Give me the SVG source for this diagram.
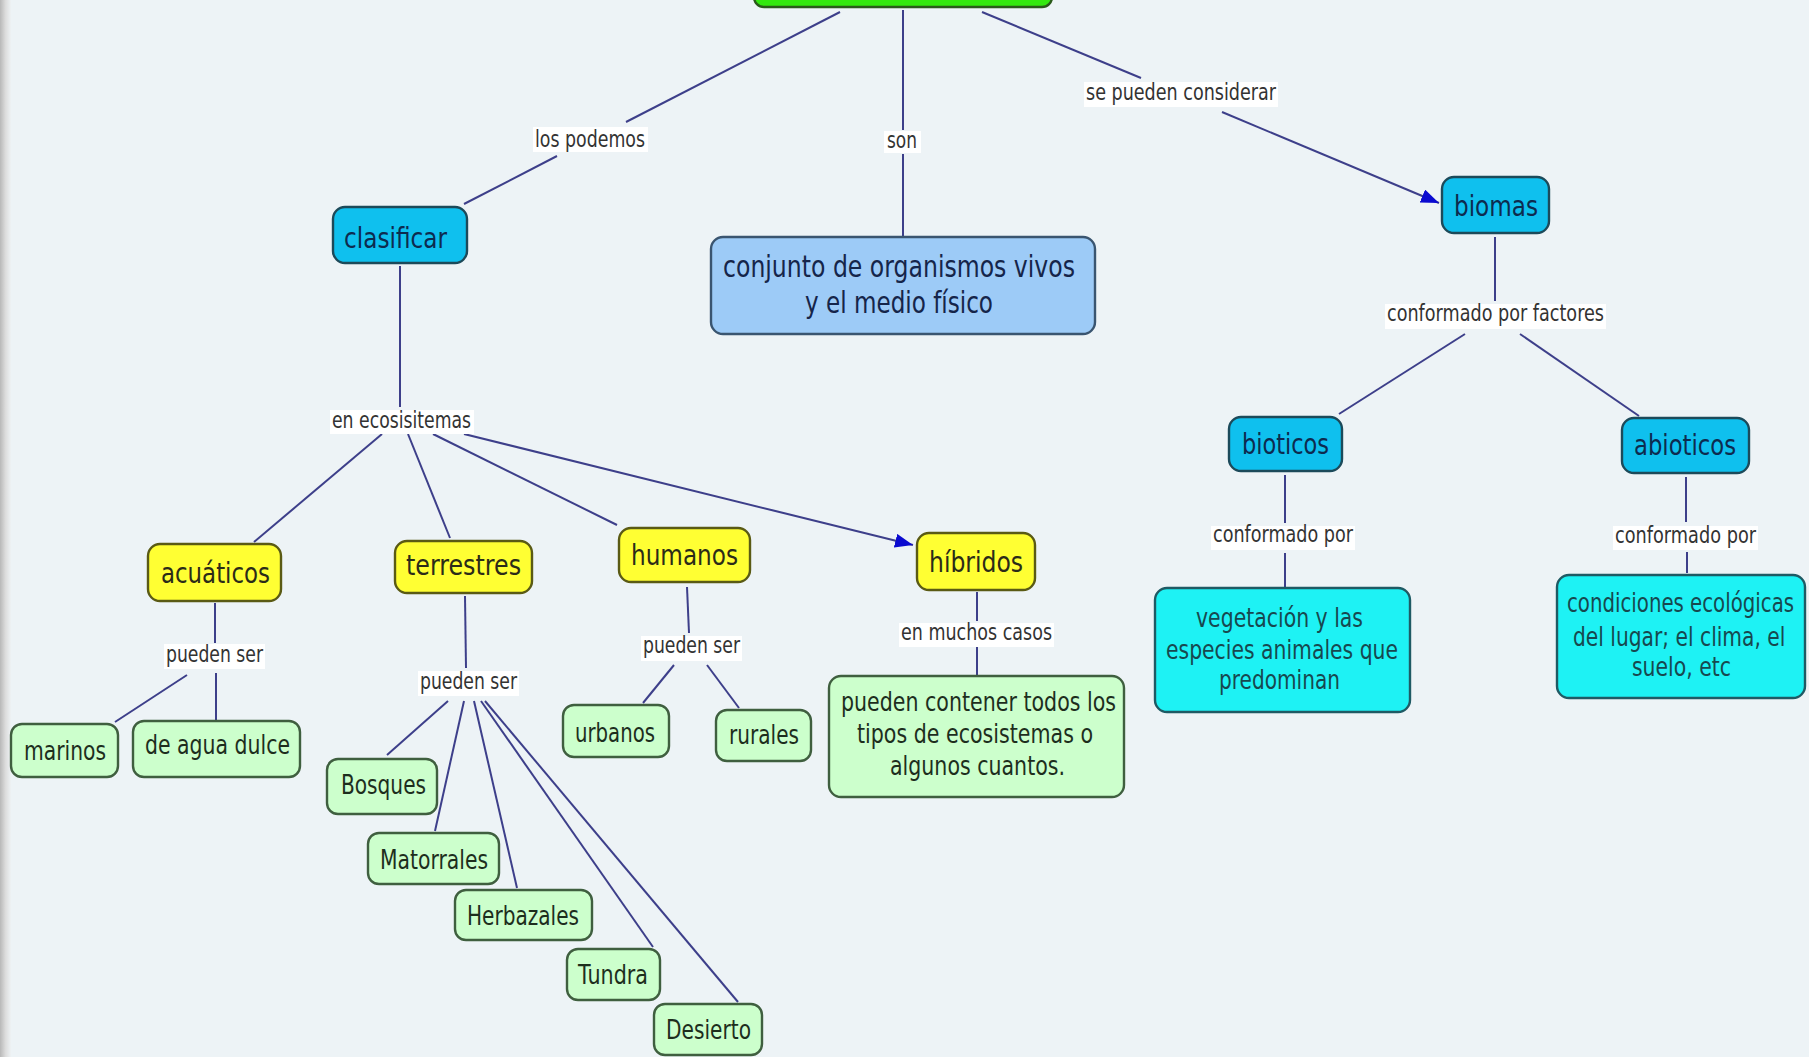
<svg xmlns="http://www.w3.org/2000/svg" width="1809" height="1057" viewBox="0 0 1809 1057">
<defs>
<style>
.bg{fill:#edf3f6}
.ln{stroke:#3d3f8a;stroke-width:2;fill:none}
.lbb{fill:#ffffff}
.lbt{font-family:"DejaVu Sans","Verdana",sans-serif;font-size:23px;fill:#333333}
.nt{font-family:"DejaVu Sans","Verdana",sans-serif;font-size:28px}
.st{font-family:"DejaVu Sans","Verdana",sans-serif;font-size:26px}
.mt{font-family:"DejaVu Sans","Verdana",sans-serif;font-size:27px}
.blue{fill:#0fc0ee;stroke:#1c4a5a;stroke-width:2.4}
.blue-t{fill:#0d2b4f}
.lblue{fill:#9dcbf7;stroke:#3a5570;stroke-width:2.4}
.lblue-t{fill:#15254a}
.yel{fill:#ffff33;stroke:#5a5a14;stroke-width:2.4}
.yel-t{fill:#2b2b18}
.grn{fill:#ccffcc;stroke:#3f5f3f;stroke-width:2.4}
.grn-t{fill:#1d2e1d}
.cyan{fill:#1ef2f4;stroke:#1f5a64;stroke-width:2.4}
.cyan-t{fill:#17484f}
.top{fill:#33e80f;stroke:#2a5a1a;stroke-width:2.4}
</style>
<linearGradient id="edge" x1="0" y1="0" x2="1" y2="0">
<stop offset="0" stop-color="#b8b8b8"/>
<stop offset="0.5" stop-color="#dcdcdc"/>
<stop offset="1" stop-color="#eef2f4"/>
</linearGradient>
<marker id="arr" markerUnits="userSpaceOnUse" markerWidth="20" markerHeight="16" refX="18" refY="7" orient="auto">
<path d="M0,0 L18,7 L0,14 z" fill="#0a0ad0"/>
</marker>
</defs>
<rect class="bg" x="0" y="0" width="1809" height="1057"/>
<rect x="0" y="0" width="11" height="1057" fill="url(#edge)"/>

<g id="connectors">
<line class="ln" x1="840" y1="12" x2="626" y2="122"/>
<line class="ln" x1="557" y1="156" x2="464" y2="204"/>
<line class="ln" x1="903" y1="10" x2="903" y2="130"/>
<line class="ln" x1="903" y1="154" x2="903" y2="236"/>
<line class="ln" x1="982" y1="12" x2="1141" y2="78"/>
<line class="ln" x1="1222" y1="112" x2="1439" y2="203" marker-end="url(#arr)"/>
<line class="ln" x1="400" y1="266" x2="400" y2="407"/>
<line class="ln" x1="382" y1="434" x2="254" y2="542"/>
<line class="ln" x1="408" y1="434" x2="450" y2="538"/>
<line class="ln" x1="433" y1="434" x2="617" y2="525"/>
<line class="ln" x1="464" y1="434" x2="913" y2="545" marker-end="url(#arr)"/>
<line class="ln" x1="215" y1="603" x2="215" y2="643"/>
<line class="ln" x1="187" y1="675" x2="115" y2="722"/>
<line class="ln" x1="216" y1="673" x2="216" y2="720"/>
<line class="ln" x1="465" y1="596" x2="466" y2="668"/>
<line class="ln" x1="448" y1="701" x2="387" y2="755"/>
<line class="ln" x1="464" y1="701" x2="435" y2="831"/>
<line class="ln" x1="474" y1="701" x2="517" y2="888"/>
<line class="ln" x1="481" y1="701" x2="653" y2="947"/>
<line class="ln" x1="485" y1="701" x2="738" y2="1002"/>
<line class="ln" x1="687" y1="587" x2="689" y2="633"/>
<line class="ln" x1="674" y1="665" x2="643" y2="703"/>
<line class="ln" x1="707" y1="665" x2="739" y2="708"/>
<line class="ln" x1="977" y1="592" x2="977" y2="621"/>
<line class="ln" x1="977" y1="646" x2="977" y2="675"/>
<line class="ln" x1="1495" y1="237" x2="1495" y2="301"/>
<line class="ln" x1="1465" y1="334" x2="1339" y2="414"/>
<line class="ln" x1="1520" y1="334" x2="1639" y2="416"/>
<line class="ln" x1="1285" y1="475" x2="1285" y2="523"/>
<line class="ln" x1="1285" y1="553" x2="1285" y2="587"/>
<line class="ln" x1="1686" y1="477" x2="1686" y2="522"/>
<line class="ln" x1="1687" y1="552" x2="1687" y2="573"/>
</g>

<g id="link-labels">
<rect class="lbb" x="533" y="127" width="115" height="25"/>
<text class="lbt" x="535" y="147" textLength="110" lengthAdjust="spacingAndGlyphs">los podemos</text>
<rect class="lbb" x="884" y="131" width="37" height="22"/>
<text class="lbt" x="887" y="148" textLength="30" lengthAdjust="spacingAndGlyphs">son</text>
<rect class="lbb" x="1084" y="82" width="194" height="25"/>
<text class="lbt" x="1086" y="100" textLength="190" lengthAdjust="spacingAndGlyphs">se pueden considerar</text>
<rect class="lbb" x="330" y="410" width="144" height="24"/>
<text class="lbt" x="332" y="428" textLength="139" lengthAdjust="spacingAndGlyphs">en ecosisitemas</text>
<rect class="lbb" x="164" y="644" width="101" height="25"/>
<text class="lbt" x="166" y="662" textLength="97" lengthAdjust="spacingAndGlyphs">pueden ser</text>
<rect class="lbb" x="418" y="671" width="101" height="25"/>
<text class="lbt" x="420" y="689" textLength="97" lengthAdjust="spacingAndGlyphs">pueden ser</text>
<rect class="lbb" x="641" y="636" width="101" height="25"/>
<text class="lbt" x="643" y="653" textLength="97" lengthAdjust="spacingAndGlyphs">pueden ser</text>
<rect class="lbb" x="899" y="623" width="155" height="24"/>
<text class="lbt" x="901" y="640" textLength="151" lengthAdjust="spacingAndGlyphs">en muchos casos</text>
<rect class="lbb" x="1385" y="304" width="221" height="25"/>
<text class="lbt" x="1387" y="321" textLength="217" lengthAdjust="spacingAndGlyphs">conformado por factores</text>
<rect class="lbb" x="1211" y="526" width="144" height="24"/>
<text class="lbt" x="1213" y="542" textLength="140" lengthAdjust="spacingAndGlyphs">conformado por</text>
<rect class="lbb" x="1613" y="526" width="145" height="24"/>
<text class="lbt" x="1615" y="543" textLength="141" lengthAdjust="spacingAndGlyphs">conformado por</text>
</g>

<g id="node-top"><rect class="top" x="754" y="-30" width="298" height="37" rx="10"/></g>

<g id="node-clasificar"><rect class="blue" x="333" y="207" width="134" height="56" rx="12"/>
<text class="nt blue-t" x="344" y="248" textLength="103" lengthAdjust="spacingAndGlyphs">clasificar</text></g>

<g id="node-conjunto"><rect class="lblue" x="711" y="237" width="384" height="97" rx="12"/>
<text class="nt lblue-t" x="723" y="277" style="font-size:30px" textLength="352" lengthAdjust="spacingAndGlyphs">conjunto de organismos vivos</text>
<text class="nt lblue-t" x="805" y="313" style="font-size:30px" textLength="188" lengthAdjust="spacingAndGlyphs">y el medio físico</text></g>

<g id="node-biomas"><rect class="blue" x="1442" y="177" width="107" height="56" rx="12"/>
<text class="nt blue-t" x="1454" y="216" textLength="84" lengthAdjust="spacingAndGlyphs">biomas</text></g>

<g id="node-bioticos"><rect class="blue" x="1229" y="417" width="113" height="54" rx="12"/>
<text class="nt blue-t" x="1242" y="454" textLength="87" lengthAdjust="spacingAndGlyphs">bioticos</text></g>

<g id="node-abioticos"><rect class="blue" x="1622" y="418" width="127" height="55" rx="12"/>
<text class="nt blue-t" x="1634" y="455" textLength="102" lengthAdjust="spacingAndGlyphs">abioticos</text></g>

<g id="node-acuaticos"><rect class="yel" x="148" y="544" width="133" height="57" rx="12"/>
<text class="nt yel-t" x="161" y="583" textLength="109" lengthAdjust="spacingAndGlyphs">acuáticos</text></g>

<g id="node-terrestres"><rect class="yel" x="395" y="541" width="137" height="52" rx="12"/>
<text class="nt yel-t" x="406" y="575" textLength="115" lengthAdjust="spacingAndGlyphs">terrestres</text></g>

<g id="node-humanos"><rect class="yel" x="619" y="528" width="131" height="54" rx="12"/>
<text class="nt yel-t" x="631" y="565" textLength="107" lengthAdjust="spacingAndGlyphs">humanos</text></g>

<g id="node-hibridos"><rect class="yel" x="917" y="533" width="118" height="57" rx="12"/>
<text class="nt yel-t" x="929" y="572" textLength="94" lengthAdjust="spacingAndGlyphs">híbridos</text></g>

<g id="node-marinos"><rect class="grn" x="11" y="724" width="107" height="53" rx="11"/>
<text class="st grn-t" x="24" y="760" textLength="82" lengthAdjust="spacingAndGlyphs">marinos</text></g>

<g id="node-agua-dulce"><rect class="grn" x="133" y="721" width="167" height="56" rx="11"/>
<text class="st grn-t" x="145" y="754" textLength="145" lengthAdjust="spacingAndGlyphs">de agua dulce</text></g>

<g id="node-bosques"><rect class="grn" x="327" y="759" width="110" height="55" rx="11"/>
<text class="st grn-t" x="341" y="794" textLength="85" lengthAdjust="spacingAndGlyphs">Bosques</text></g>

<g id="node-matorrales"><rect class="grn" x="368" y="833" width="131" height="51" rx="11"/>
<text class="st grn-t" x="380" y="869" textLength="108" lengthAdjust="spacingAndGlyphs">Matorrales</text></g>

<g id="node-herbazales"><rect class="grn" x="455" y="890" width="137" height="50" rx="11"/>
<text class="st grn-t" x="467" y="925" textLength="112" lengthAdjust="spacingAndGlyphs">Herbazales</text></g>

<g id="node-tundra"><rect class="grn" x="567" y="949" width="93" height="51" rx="11"/>
<text class="st grn-t" x="578" y="984" textLength="70" lengthAdjust="spacingAndGlyphs">Tundra</text></g>

<g id="node-desierto"><rect class="grn" x="654" y="1004" width="108" height="51" rx="11"/>
<text class="st grn-t" x="666" y="1039" textLength="85" lengthAdjust="spacingAndGlyphs">Desierto</text></g>

<g id="node-urbanos"><rect class="grn" x="563" y="705" width="106" height="52" rx="11"/>
<text class="st grn-t" x="575" y="742" textLength="80" lengthAdjust="spacingAndGlyphs">urbanos</text></g>

<g id="node-rurales"><rect class="grn" x="716" y="710" width="95" height="51" rx="11"/>
<text class="st grn-t" x="729" y="744" textLength="70" lengthAdjust="spacingAndGlyphs">rurales</text></g>

<g id="node-pueden-contener"><rect class="grn" x="829" y="676" width="295" height="121" rx="12"/>
<text class="mt grn-t" x="841" y="711" textLength="275" lengthAdjust="spacingAndGlyphs">pueden contener todos los</text>
<text class="mt grn-t" x="857" y="743" textLength="236" lengthAdjust="spacingAndGlyphs">tipos de ecosistemas o</text>
<text class="mt grn-t" x="890" y="775" textLength="175" lengthAdjust="spacingAndGlyphs">algunos cuantos.</text></g>

<g id="node-vegetacion"><rect class="cyan" x="1155" y="588" width="255" height="124" rx="12"/>
<text class="mt cyan-t" x="1196" y="627" textLength="167" lengthAdjust="spacingAndGlyphs">vegetación y las</text>
<text class="mt cyan-t" x="1166" y="659" textLength="232" lengthAdjust="spacingAndGlyphs">especies animales que</text>
<text class="mt cyan-t" x="1219" y="689" textLength="121" lengthAdjust="spacingAndGlyphs">predominan</text></g>

<g id="node-condiciones"><rect class="cyan" x="1557" y="575" width="248" height="123" rx="12"/>
<text class="mt cyan-t" x="1567" y="612" transform="translate(1567 612) scale(0.73 1) translate(-1567 -612)" textLength="311" lengthAdjust="spacingAndGlyphs">condiciones ecológicas</text>
<text class="mt cyan-t" x="1573" y="646" transform="translate(1573 646) scale(0.74 1) translate(-1573 -646)" textLength="287" lengthAdjust="spacingAndGlyphs">del lugar; el clima, el</text>
<text class="mt cyan-t" x="1632" y="676" transform="translate(1632 676) scale(0.75 1) translate(-1632 -676)" textLength="132" lengthAdjust="spacingAndGlyphs">suelo, etc</text></g>
</svg>
